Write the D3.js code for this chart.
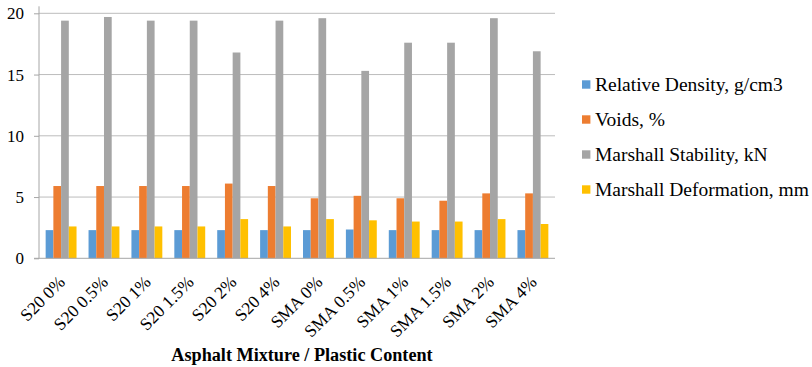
<!DOCTYPE html>
<html>
<head>
<meta charset="utf-8">
<script src="https://cdn.jsdelivr.net/npm/d3@7/dist/d3.min.js"></script>
<style>
  html, body { margin: 0; padding: 0; background: #fff; }
  svg { display: block; }
</style>
</head>
<body>
<svg id="chart" width="812" height="367"></svg>
<script>
// Mixture / plastic content categories
const categories = ["S20 0%", "S20 0.5%", "S20 1%", "S20 1.5%", "S20 2%", "S20 4%",
                    "SMA 0%", "SMA 0.5%", "SMA 1%", "SMA 1.5%", "SMA 2%", "SMA 4%"];

// Measured properties per mixture
const relativeDensity = [2.3, 2.3, 2.3, 2.3, 2.3, 2.3, 2.3, 2.35, 2.3, 2.3, 2.3, 2.3];
const voids = [5.9, 5.9, 5.9, 5.9, 6.1, 5.9, 4.9, 5.1, 4.9, 4.7, 5.3, 5.3];
const marshallStability = [19.4, 19.7, 19.4, 19.4, 16.8, 19.4, 19.6, 15.3, 17.6, 17.6, 19.6, 16.9];
const marshallDeformation = [2.6, 2.6, 2.6, 2.6, 3.2, 2.6, 3.2, 3.1, 3.0, 3.0, 3.2, 2.8];

const seriesNames = ["Relative Density, g/cm3", "Voids, %", "Marshall Stability, kN", "Marshall Deformation, mm"];
const seriesValues = [relativeDensity, voids, marshallStability, marshallDeformation];
const seriesColors = ["#5b9bd5", "#ed7d31", "#a5a5a5", "#ffc000"];
const yTicks = [0, 5, 10, 15, 20];
const xTitle = "Asphalt Mixture / Plastic Content";

const FONT = "'Liberation Serif'";
const AXIS_GRAY = "#a6a6a6";

const svg = d3.select("#chart");
const plot = { left: 39, right: 555, top: 13.3, bottom: 258.3 };

const x = d3.scaleBand().domain(categories).range([plot.left, plot.right]).paddingInner(0.28).paddingOuter(0.155);
const xs = d3.scaleBand().domain(seriesNames).range([0, x.bandwidth()]);
const y = d3.scaleLinear().domain([0, 20]).range([plot.bottom, plot.top]);

// Horizontal gridlines
svg.append("g")
  .selectAll("line")
  .data(yTicks.filter(d => d > 0))
  .join("line")
  .attr("x1", plot.left).attr("x2", plot.right)
  .attr("y1", d => y(d)).attr("y2", d => y(d))
  .attr("stroke", "#bcbcbc").attr("stroke-width", 1);

// Bars
const groups = svg.append("g")
  .selectAll("g")
  .data(categories)
  .join("g")
  .attr("transform", d => `translate(${x(d)},0)`);

groups.selectAll("rect")
  .data((c, i) => seriesNames.map((s, j) => ({ s, v: seriesValues[j][i], color: seriesColors[j] })))
  .join("rect")
  .attr("x", d => xs(d.s))
  .attr("width", xs.bandwidth())
  .attr("y", d => y(d.v))
  .attr("height", d => y(0) - y(d.v))
  .attr("fill", d => d.color);

// Y axis
const yAxis = svg.append("g")
  .attr("transform", `translate(${plot.left},0)`)
  .call(d3.axisLeft(y).tickValues(yTicks).tickSize(5).tickPadding(10));
yAxis.select(".domain").attr("stroke", AXIS_GRAY).attr("d", `M0,${plot.top - 7}V${plot.bottom}`);
yAxis.selectAll(".tick line").attr("stroke", AXIS_GRAY);
yAxis.selectAll(".tick text")
  .style("font-family", FONT)
  .style("font-size", "17px")
  .attr("fill", "#000");

// X axis
const xAxis = svg.append("g")
  .attr("transform", `translate(0,${plot.bottom})`)
  .call(d3.axisBottom(x).tickSize(0).tickPadding(0));
xAxis.select(".domain").attr("stroke", AXIS_GRAY).attr("d", `M${plot.left - 5},0H${plot.right}`);
xAxis.selectAll(".tick text")
  .style("font-family", FONT)
  .style("font-size", "17.5px")
  .attr("fill", "#000")
  .attr("text-anchor", "end")
  .attr("dy", 0)
  .attr("transform", "translate(5,25) rotate(-45)");

// Axis title
svg.append("text")
  .attr("x", (plot.left + plot.right) / 2 + 5)
  .attr("y", 361)
  .attr("text-anchor", "middle")
  .style("font-family", FONT)
  .style("font-size", "18.2px")
  .style("font-weight", "bold")
  .text(xTitle);

// Legend
const legend = svg.append("g").attr("transform", "translate(582,0)");
const rows = legend.selectAll("g")
  .data(seriesNames)
  .join("g")
  .attr("transform", (d, i) => `translate(0,${84.5 + i * 35})`);
rows.append("rect")
  .attr("x", 0).attr("y", -4.2).attr("width", 8.4).attr("height", 8.4)
  .attr("fill", (d, i) => seriesColors[i]);
rows.append("text")
  .attr("x", 13).attr("y", 0).attr("dy", "0.32em")
  .style("font-family", FONT)
  .style("font-size", "19.5px")
  .text(d => d);
</script>
</body>
</html>
